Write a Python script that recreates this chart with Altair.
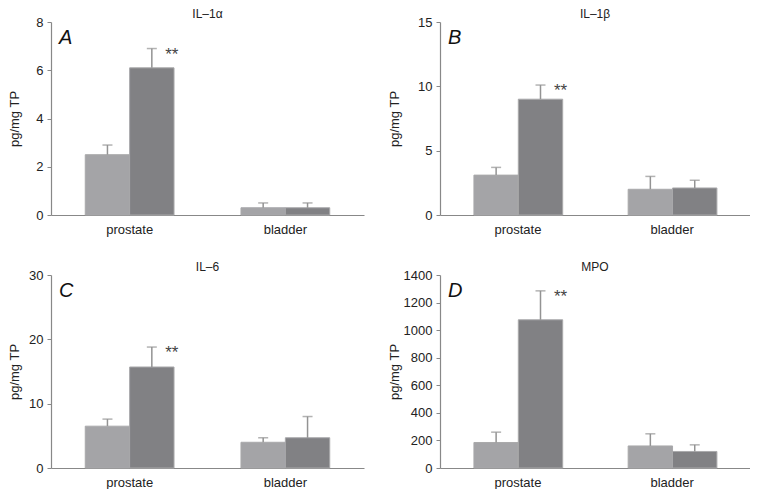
import altair as alt
import pandas as pd

categories = ["prostate", "bladder"]
groups = ["control", "treated"]

il1a_mean = [2.5, 6.1, 0.3, 0.3]
il1a_upper = [2.9, 6.9, 0.5, 0.5]
il1b_mean = [3.1, 9.0, 2.0, 2.1]
il1b_upper = [3.7, 10.1, 3.0, 2.7]
il6_mean = [6.5, 15.7, 4.0, 4.7]
il6_upper = [7.6, 18.8, 4.7, 8.0]
mpo_mean = [185, 1075, 160, 120]
mpo_upper = [260, 1285, 248, 168]
stars = ["", "**", "", ""]

FONT = "Liberation Sans"
LIGHT = "#a4a4a7"
DARK = "#818184"
GREY = "#939393"


def panel(title, letter, mean, upper, ymax, ticks, ext, tpad, width):
    df = pd.DataFrame({
        "cat": [c for c in categories for g in groups],
        "grp": groups * 2,
        "mean": mean,
        "upper": upper,
        "star": stars,
    })
    x = alt.X("cat:N", sort=categories,
              scale=alt.Scale(paddingInner=0.43, paddingOuter=0.22),
              axis=alt.Axis(title=None, ticks=False, labelAngle=0, labelPadding=8,
                            labelFontSize=13, labelColor="#222", labelFont=FONT,
                            domainColor="#888", domainWidth=1.2))
    xo = alt.XOffset("grp:N", sort=groups, scale=alt.Scale(paddingInner=0, paddingOuter=0))
    yscale = alt.Scale(domain=[0, ymax], nice=False, zero=True)
    yaxis = alt.Axis(values=ticks, format="d", grid=False, tickSize=4, tickColor="#888",
                     domainColor="#888", domainWidth=1.2, labelFontSize=13,
                     labelColor="#222", labelFont=FONT, labelPadding=4,
                     titleFont=FONT, titleFontSize=13, titleFontWeight="normal",
                     titleColor="#222", titlePadding=tpad,
                     minExtent=ext, maxExtent=ext)

    def ye(field):
        return alt.Y(field, scale=yscale, axis=yaxis, title="pg/mg TP")

    base = alt.Chart(df)
    bars = base.mark_bar(stroke="#a9a9ab", strokeWidth=1).encode(
        x=x, xOffset=xo, y=ye("mean:Q"),
        color=alt.Color("grp:N", scale=alt.Scale(domain=groups, range=[LIGHT, DARK]), legend=None),
    )
    err = base.mark_rule(color=GREY, strokeWidth=1.5).encode(
        x=x, xOffset=xo, y=ye("mean:Q"), y2="upper:Q")
    cap = base.mark_tick(orient="horizontal", size=10, thickness=1.5, color=GREY).encode(
        x=x, xOffset=xo, y=ye("upper:Q"))
    star = base.mark_text(font=FONT, fontSize=17, color="#444", dx=20, dy=6).encode(
        x=x, xOffset=xo, y=ye("upper:Q"), text="star:N")
    lab = alt.Chart(pd.DataFrame({"t": [letter]})).mark_text(
        font=FONT, fontSize=20, fontStyle="italic", align="left", baseline="top", color="#111"
    ).encode(x=alt.value(8), y=alt.value(6), text="t:N")

    return alt.layer(bars, err, cap, star, lab).properties(
        width=width, height=193,
        title=alt.TitleParams(title, fontSize=12, fontWeight="normal", font=FONT,
                              color="#222", offset=-5, anchor="middle"),
    )


A = panel("IL–1α", "A", il1a_mean, il1a_upper, 8, [0, 2, 4, 6, 8], 26, 4, 313)
B = panel("IL–1β", "B", il1b_mean, il1b_upper, 15, [0, 5, 10, 15], 33, 6, 310)
C = panel("IL–6", "C", il6_mean, il6_upper, 30, [0, 10, 20, 30], 26, 4, 313)
D = panel("MPO", "D", mpo_mean, mpo_upper, 1400, [0, 200, 400, 600, 800, 1000, 1200, 1400], 33, 6, 310)

chart = alt.vconcat(
    alt.hconcat(A, B, spacing=24),
    alt.hconcat(C, D, spacing=24),
    spacing=25,
).properties(
    padding=0
).configure_view(stroke=None)

chart.save("out.html", embed_options={"renderer": "svg", "actions": False})
